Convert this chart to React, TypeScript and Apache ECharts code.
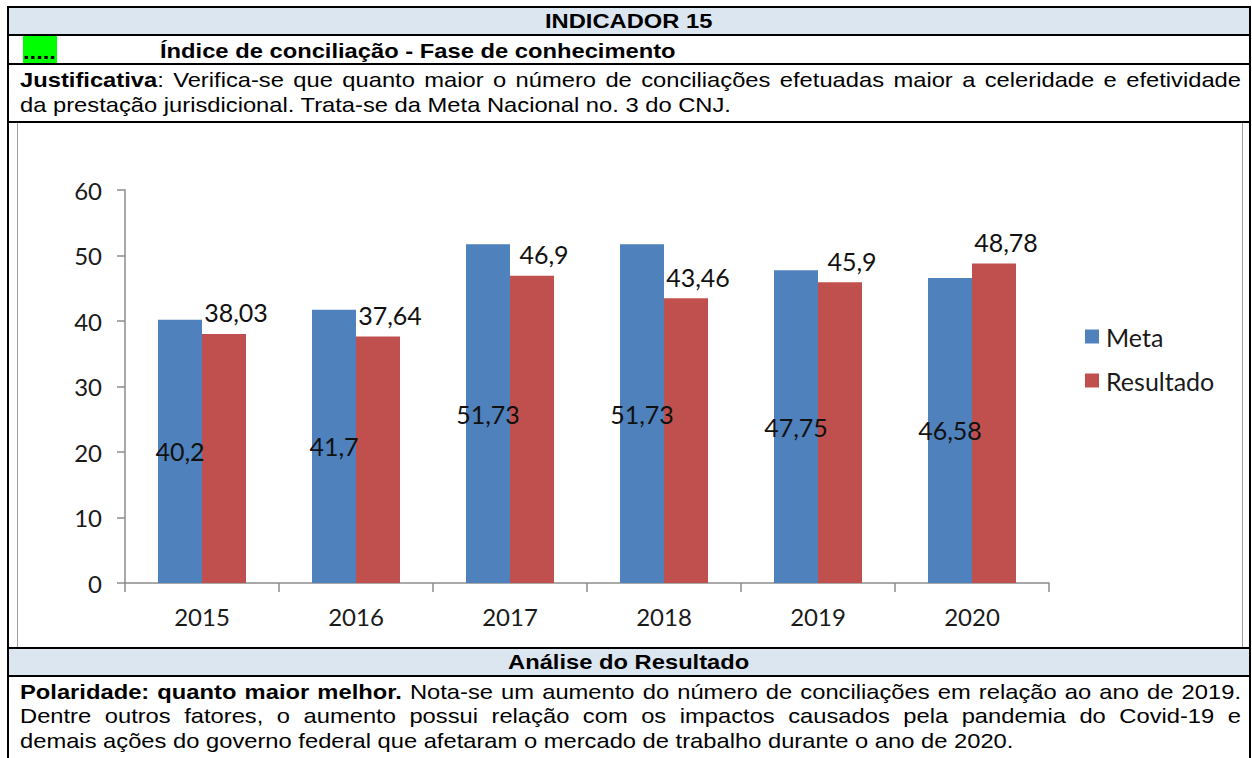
import React, { useEffect, useRef } from "react";
import * as echarts from "echarts";

const categories = ["2015", "2016", "2017", "2018", "2019", "2020"];
const metaValues = [40.2, 41.7, 51.73, 51.73, 47.75, 46.58];
const resultadoValues = [38.03, 37.64, 46.9, 43.46, 45.9, 48.78];
const seriesNames = ["Meta", "Resultado"];
const yMin = 0;
const yMax = 60;
const yInterval = 10;

const headerTitle = "INDICADOR 15";
const greenDots = ".....";
const subTitle = "Índice de conciliação - Fase de conhecimento";
const justLabel = "Justificativa";
const justLine1Rest = ": Verifica-se que quanto maior o número de conciliações efetuadas maior a celeridade e efetividade";
const justLine2 = "da prestação jurisdicional. Trata-se da Meta Nacional no. 3 do CNJ.";
const analiseTitle = "Análise do Resultado";
const polaridadeBold = "Polaridade: quanto maior melhor.";
const analiseLine1Rest = " Nota-se um aumento do número de conciliações em relação ao ano de 2019.";
const analiseLine2 = "Dentre outros fatores, o aumento possui relação com os impactos causados pela pandemia do Covid-19 e";
const analiseLine3 = "demais ações do governo federal que afetaram o mercado de trabalho durante o ano de 2020.";

const S = 1.13;
const FONT = '"Liberation Sans", Arial, sans-serif';
const CH_FONT = "Lato, 'Open Sans', sans-serif";
const fmt = (p: any) => String(p.value).replace(".", ",");

function TextLine(props: { top: number; left: number; width: number; justify?: boolean; center?: boolean; bold?: boolean; children: React.ReactNode }) {
  const { top, left, width, justify, center, bold, children } = props;
  return (
    <div
      style={{
        position: "absolute",
        top,
        left,
        width: width / S,
        height: 24,
        lineHeight: "24px",
        fontSize: 21,
        fontFamily: FONT,
        fontWeight: bold ? 700 : 400,
        color: "#000",
        whiteSpace: justify ? "normal" : "nowrap",
        textAlign: center ? "center" : "justify",
        textAlignLast: justify ? "justify" : center ? "center" : "left",
        transform: `scaleX(${S})`,
        transformOrigin: center ? "center" : "left",
        ...(center ? { left: left + (width - width / S) / 2 } : {}),
      } as React.CSSProperties}
    >
      {children}
    </div>
  );
}

function Chart() {
  const ref = useRef<HTMLDivElement>(null);
  useEffect(() => {
    if (!ref.current) return;
    const chart = echarts.init(ref.current, undefined, { renderer: "svg" });
    chart.setOption({
      animation: false,
      textStyle: { fontFamily: CH_FONT },
      grid: { left: 107, top: 67, width: 924, height: 393 },
      legend: {
        orient: "vertical",
        left: 1062,
        top: 196,
        itemWidth: 14,
        itemHeight: 14,
        itemGap: 19,
        icon: "rect",
        data: seriesNames,
        textStyle: { fontSize: 25, color: "#1a1a1a", lineHeight: 25, fontFamily: CH_FONT, padding: [0, 0, 0, 2] },
      },
      xAxis: {
        type: "category",
        data: categories,
        axisLine: { show: true, lineStyle: { color: "#8c8c8c", width: 1.5 } },
        axisTick: { show: true, length: 9, alignWithLabel: false, lineStyle: { color: "#8c8c8c", width: 1.5 } },
        axisLabel: { fontSize: 24, color: "#1a1a1a", margin: 21, fontFamily: CH_FONT },
      },
      yAxis: {
        type: "value",
        min: yMin,
        max: yMax,
        interval: yInterval,
        axisLine: { show: true, lineStyle: { color: "#8c8c8c", width: 1.5 } },
        axisTick: { show: true, length: 8, lineStyle: { color: "#8c8c8c", width: 1.5 } },
        splitLine: { show: false },
        axisLabel: { fontSize: 24, color: "#1a1a1a", margin: 23, fontFamily: CH_FONT },
      },
      series: [
        {
          name: seriesNames[0],
          type: "bar",
          data: metaValues,
          barWidth: 44,
          barGap: "0%",
          itemStyle: { color: "#4F81BD" },
          label: {
            show: true,
            position: "inside",
            color: "#111",
            fontSize: 25,
            fontFamily: CH_FONT,
            textBorderWidth: 0,
            formatter: fmt,
          },
        },
        {
          name: seriesNames[1],
          type: "bar",
          data: resultadoValues,
          barWidth: 44,
          barGap: "0%",
          itemStyle: { color: "#C0504D" },
          label: {
            show: true,
            position: "top",
            distance: 9,
            offset: [12, 0],
            color: "#111",
            fontSize: 25,
            fontFamily: CH_FONT,
            formatter: fmt,
          },
        },
      ],
    });
    return () => chart.dispose();
  }, []);
  return <div ref={ref} style={{ width: 1224, height: 524 }} />;
}

export default function App() {
  const hLine = (top: number) => (
    <div style={{ position: "absolute", left: 7, top, width: 1244, height: 2, background: "#000" }} />
  );
  return (
    <div style={{ position: "absolute", left: 0, top: 0, width: 1252, height: 758, background: "#fff", overflow: "hidden" }}>
      {/* header backgrounds */}
      <div style={{ position: "absolute", left: 9, top: 8, width: 1240, height: 26, background: "#DCE6F1" }} />
      <div style={{ position: "absolute", left: 9, top: 649, width: 1240, height: 26, background: "#DCE6F1" }} />
      {/* chart frame */}
      <div
        style={{
          position: "absolute",
          left: 17,
          top: 123,
          width: 1224,
          height: 524,
          borderLeft: "1px solid #a0a0a0",
          borderRight: "1px solid #a0a0a0",
        }}
      >
        <Chart />
      </div>
      {/* green box */}
      <div style={{ position: "absolute", left: 23, top: 36, width: 34, height: 27, background: "#00FF00" }} />
      {/* borders */}
      {hLine(6)}
      {hLine(34)}
      {hLine(63)}
      {hLine(121)}
      {hLine(647)}
      {hLine(675)}
      <div style={{ position: "absolute", left: 7, top: 6, width: 2, height: 760, background: "#000" }} />
      <div style={{ position: "absolute", left: 1249, top: 6, width: 2, height: 760, background: "#000" }} />
      {/* texts */}
      <TextLine top={40} left={23} width={40} bold>
        {greenDots}
      </TextLine>
      <TextLine top={9} left={9} width={1240} center bold>
        {headerTitle}
      </TextLine>
      <TextLine top={39} left={160} width={700} bold>
        {subTitle}
      </TextLine>
      <TextLine top={68} left={20} width={1221} justify>
        <b>{justLabel}</b>
        {justLine1Rest}
      </TextLine>
      <TextLine top={93} left={20} width={1221}>
        {justLine2}
      </TextLine>
      <TextLine top={650} left={9} width={1240} center bold>
        {analiseTitle}
      </TextLine>
      <TextLine top={680} left={20} width={1221} justify>
        <b>{polaridadeBold}</b>
        {analiseLine1Rest}
      </TextLine>
      <TextLine top={704} left={20} width={1221} justify>
        {analiseLine2}
      </TextLine>
      <TextLine top={729} left={20} width={1221}>
        {analiseLine3}
      </TextLine>
    </div>
  );
}
